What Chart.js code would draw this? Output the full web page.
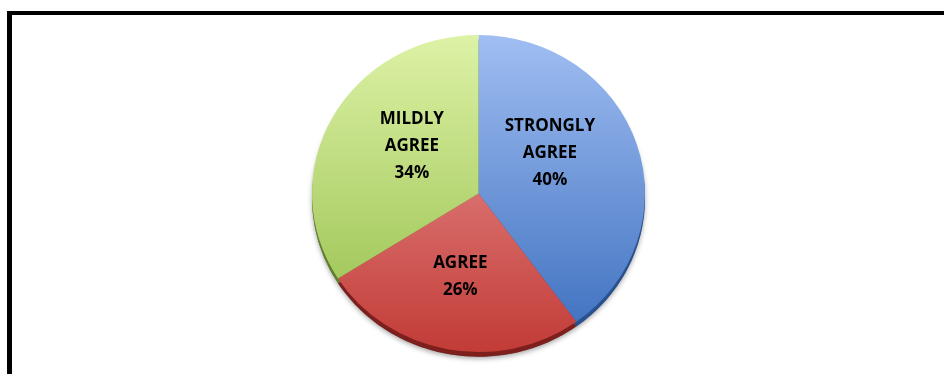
<!DOCTYPE html>
<html>
<head>
<meta charset="utf-8">
<script src="https://cdn.jsdelivr.net/npm/chart.js@4.4.1/dist/chart.umd.min.js"></script>
<style>
  html, body { margin: 0; padding: 0; background: #fff; }
  #wrap { position: relative; width: 944px; height: 374px; }
</style>
</head>
<body>
<div id="wrap"><canvas id="myChart" width="944" height="374"></canvas></div>
<script>
// survey answers, clockwise from 12 o'clock
const categories = ['STRONGLY AGREE', 'AGREE', 'MILDLY AGREE'];
const percents = [40, 26, 34];
const labelLines = [['STRONGLY', 'AGREE', '40%'], ['AGREE', '26%'], ['MILDLY', 'AGREE', '34%']];

// top / bottom colour of each slice's gradient, plus the darker side edge
const gradTop = ['#a0bef2', '#eea1a0', '#ddf2a6'];
const gradBottom = ['#3a6dbd', '#c23b37', '#93bd48'];
const edgeColors = ['#29508f', '#7d1f1c', '#5f7f2a'];

const TILT = 0.952; // pie is squashed a little vertically

const sliceFill = (ctx) => {
  const chart = ctx.chart;
  const area = chart.chartArea;
  const i = ctx.dataIndex;
  if (!area) return gradBottom[i];
  const g = chart.ctx.createLinearGradient(0, area.top, 0, area.bottom);
  g.addColorStop(0, gradTop[i]);
  g.addColorStop(1, gradBottom[i]);
  return g;
};

// black frame on the left and top edges
const framePlugin = {
  id: 'frame',
  beforeDraw(chart) {
    const c = chart.ctx;
    c.save();
    c.fillStyle = '#000';
    c.fillRect(7, 11, 5, chart.height - 11);
    c.fillRect(7, 11, chart.width - 7, 4);
    c.restore();
  }
};

// squash the pie into a slight ellipse
const tiltPlugin = {
  id: 'tilt',
  beforeDatasetsDraw(chart) {
    const arc = chart.getDatasetMeta(0).data[0];
    const c = chart.ctx;
    c.save();
    c.translate(0, arc.y);
    c.scale(1, TILT);
    c.translate(0, -arc.y);
  },
  afterDatasetsDraw(chart) {
    chart.ctx.restore();
  }
};

// thick dark side edge + soft shadow under the pie
const edgePlugin = {
  id: 'pieEdge',
  beforeDatasetsDraw(chart) {
    const meta = chart.getDatasetMeta(0);
    const c = chart.ctx;
    const first = meta.data[0];
    c.save();
    c.shadowColor = 'rgba(0,0,0,0.35)';
    c.shadowBlur = 5;
    c.shadowOffsetY = 2;
    c.fillStyle = '#777';
    c.beginPath();
    c.arc(first.x, first.y + 5, first.outerRadius, 0, Math.PI * 2);
    c.fill();
    c.restore();
    meta.data.forEach((arc, i) => {
      c.save();
      c.fillStyle = edgeColors[i];
      c.beginPath();
      c.moveTo(arc.x, arc.y + 5);
      c.arc(arc.x, arc.y + 5, arc.outerRadius, arc.startAngle, arc.endAngle);
      c.closePath();
      c.fill();
      c.restore();
    });
  }
};

// bold labels inside each slice
const sliceLabels = {
  id: 'sliceLabels',
  afterDatasetsDraw(chart, args, opts) {
    const c = chart.ctx;
    const meta = chart.getDatasetMeta(0);
    c.save();
    c.font = 'bold 17px "Open Sans", sans-serif';
    c.fillStyle = '#000';
    c.textAlign = 'center';
    c.textBaseline = 'middle';
    meta.data.forEach((arc, i) => {
      const mid = (arc.startAngle + arc.endAngle) / 2 + opts.nudge[i] * Math.PI / 180;
      const r = arc.outerRadius * opts.radius[i];
      const x = arc.x + Math.cos(mid) * r;
      const y = arc.y + Math.sin(mid) * r * TILT;
      const lines = labelLines[i];
      const top = y - (lines.length - 1) * opts.lineHeight / 2;
      lines.forEach((t, k) => c.fillText(t, x, top + k * opts.lineHeight));
    });
    c.restore();
  }
};

new Chart(document.getElementById('myChart').getContext('2d'), {
  type: 'pie',
  data: {
    labels: categories,
    datasets: [{
      data: percents,
      backgroundColor: sliceFill,
      borderWidth: 0
    }]
  },
  options: {
    responsive: false,
    animation: false,
    layout: { padding: { top: 27, bottom: 14, left: 13, right: 0 } },
    plugins: {
      legend: { display: false },
      tooltip: { enabled: false },
      sliceLabels: { radius: [0.5, 0.535, 0.5], lineHeight: 27, nudge: [-13, 1, 8] }
    }
  },
  plugins: [framePlugin, tiltPlugin, edgePlugin, sliceLabels]
});
</script>
</body>
</html>
